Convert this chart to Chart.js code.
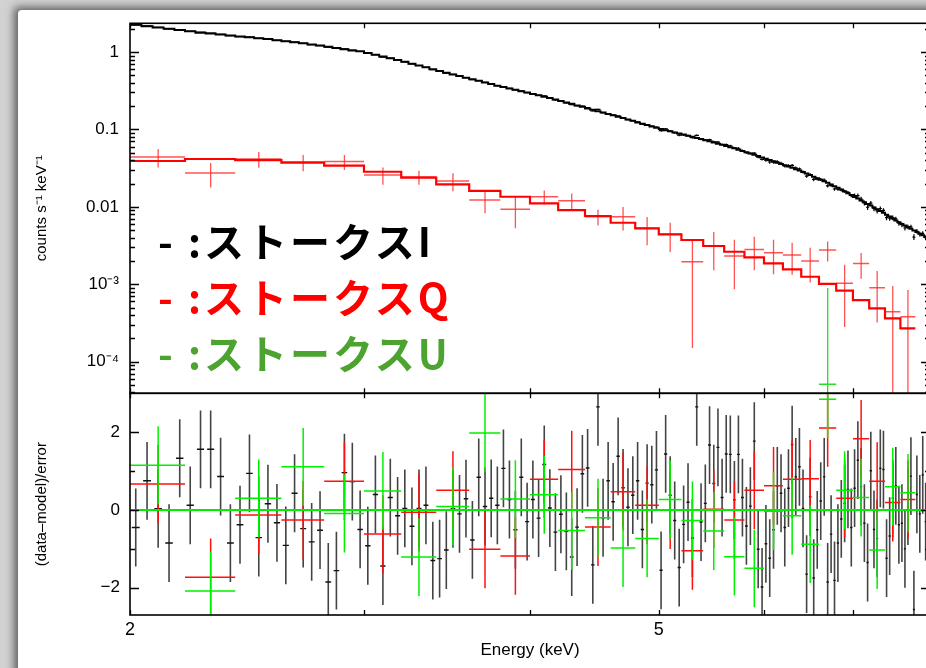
<!DOCTYPE html>
<html>
<head>
<meta charset="utf-8">
<script src="https://cdn.jsdelivr.net/npm/chart.js@4.4.0/dist/chart.umd.min.js"></script>
<style>
  html, body { margin: 0; padding: 0; width: 926px; height: 668px; overflow: hidden; background: #d2d2d2; }
  #sheet { position: absolute; left: 18px; top: 10px; width: 960px; height: 720px; background: #fff;
           border-radius: 4px 0 0 0; box-shadow: -4px -3px 8px rgba(0,0,0,0.55); }
  #plots { position: absolute; left: 0; top: 0; width: 940px; height: 668px; }
  #plots canvas { position: absolute; left: 0; top: 0; }
  .key { position: absolute; left: 158px; font-family: "Noto Sans CJK JP", sans-serif; font-weight: 700;
         font-size: 40px; line-height: 40px; letter-spacing: 3px; white-space: pre; }
</style>
</head>
<body>
<div id="sheet"></div>
<div id="plots">
  <canvas id="spec" width="940" height="668"></canvas>
  <canvas id="resid" width="940" height="668"></canvas>
</div>
<div class="key" style="top:220px;color:#000">- :ストークスI</div>
<div class="key" style="top:276px;color:#ff0000">- :ストークスQ</div>
<div class="key" style="top:332px;color:#4ca330">- :ストークスU</div>
<script>
// ---- Stokes I spectrum: 0.04 keV bins ----
const energyI = [
  2.02,2.06,2.10,2.14,2.18,2.22,2.26,2.30,2.34,2.38,
  2.42,2.46,2.50,2.54,2.58,2.62,2.66,2.70,2.74,2.78,
  2.82,2.86,2.90,2.94,2.98,3.02,3.06,3.10,3.14,3.18,
  3.22,3.26,3.30,3.34,3.38,3.42,3.46,3.50,3.54,3.58,
  3.62,3.66,3.70,3.74,3.78,3.82,3.86,3.90,3.94,3.98,
  4.02,4.06,4.10,4.14,4.18,4.22,4.26,4.30,4.34,4.38,
  4.42,4.46,4.50,4.54,4.58,4.62,4.66,4.70,4.74,4.78,
  4.82,4.86,4.90,4.94,4.98,5.02,5.06,5.10,5.14,5.18,
  5.22,5.26,5.30,5.34,5.38,5.42,5.46,5.50,5.54,5.58,
  5.62,5.66,5.70,5.74,5.78,5.82,5.86,5.90,5.94,5.98,
  6.02,6.06,6.10,6.14,6.18,6.22,6.26,6.30,6.34,6.38,
  6.42,6.46,6.50,6.54,6.58,6.62,6.66,6.70,6.74,6.78,
  6.82,6.86,6.90,6.94,6.98,7.02,7.06,7.10,7.14,7.18,
  7.22,7.26,7.30,7.34,7.38,7.42,7.46,7.50,7.54,7.58,
  7.62,7.66,7.70,7.74,7.78,7.82,7.86,7.90,7.94,7.98
];
const halfWidthI = 0.02;

// model count rate (counts s^-1 keV^-1) per bin
const modelI = [
  2.25,2.16,2.08,2.00,1.92,1.85,1.78,1.73,1.68,1.64,
  1.59,1.55,1.51,1.47,1.42,1.38,1.34,1.30,1.25,1.21,
  1.17,1.13,1.09,1.05,1.02,0.974,0.923,0.875,0.830,0.787,
  0.746,0.706,0.669,0.634,0.601,0.569,0.539,0.513,0.489,0.466,
  0.444,0.424,0.404,0.385,0.367,0.352,0.338,0.325,0.312,0.299,
  0.287,0.276,0.265,0.254,0.243,0.233,0.223,0.214,0.204,0.196,
  0.187,0.179,0.172,0.165,0.158,0.152,0.146,0.140,0.134,0.129,
  0.123,0.118,0.114,0.109,0.105,0.101,0.0975,0.0944,0.0914,0.0885,
  0.0857,0.0829,0.0803,0.0777,0.0752,0.0726,0.0702,0.0678,0.0655,0.0633,
  0.0611,0.0590,0.0570,0.0548,0.0528,0.0508,0.0488,0.0470,0.0452,0.0435,
  0.0418,0.0402,0.0387,0.0372,0.0358,0.0345,0.0332,0.0319,0.0307,0.0295,
  0.0282,0.0269,0.0257,0.0245,0.0234,0.0224,0.0214,0.0204,0.0195,0.0185,
  0.0176,0.0167,0.0158,0.0150,0.0142,0.0134,0.0128,0.0121,0.0115,0.0109,
  0.0104,0.00983,0.00933,0.00885,0.00839,0.00793,0.00749,0.00707,0.00668,0.00631,
  0.00601,0.00573,0.00546,0.00520,0.00495,0.00472,0.00449,0.00428,0.00407,0.00389
];

// (data - model) / error per bin
const residI = [
  -0.45,0.75,0.03,-0.85,1.33,0.12,1.56,1.56,0.86,-0.85,
  -0.38,0.94,-0.71,0.16,-0.33,-0.91,0.43,-0.48,-0.82,-0.52,
  -1.85,-1.56,0.96,0.73,-0.50,-0.92,0.40,-1.44,0.32,-0.15,
  0.04,-0.42,0.04,0.12,-1.30,-1.25,-1.03,0.03,-0.10,0.29,
  -0.77,0.84,0.09,0.30,0.12,1.07,0.27,-0.51,0.84,-0.30,
  0.27,-0.21,1.17,0.05,-0.57,-0.11,-0.55,-1.21,-0.44,0.93,
  1.08,-1.41,2.65,-0.20,0.75,0.21,1.38,0.57,0.07,0.38,
  0.75,-0.50,0.69,0.65,1.03,-1.55,1.44,0.38,-0.27,-1.48,
  -0.37,0.20,-0.72,2.65,-0.31,0.17,1.67,0.68,1.61,0.32,
  1.44,1.43,0.26,1.43,0.32,-0.41,0.10,1.77,-1.01,-1.98,
  -0.87,-1.24,-0.51,0.62,0.43,-0.45,0.56,1.68,0.85,1.11,
  0.04,-1.65,0.34,-1.75,-0.51,0.23,0.85,-1.85,-0.62,-1.81,
  -0.85,-0.23,0.17,0.53,-0.45,0.56,1.28,0.60,-0.34,-1.35,
  1.01,-0.50,-0.73,1.07,1.04,-1.24,-0.67,0.30,0.62,-0.38,
  -0.34,-1.00,0.10,0.87,-2.56,0.40,-0.10,0.90,-0.30,0.50
];

// fractional 1-sigma error of the I rate, by energy band [band start keV, fraction]
const fracErrBandsI = [[2.0, 0.008], [3.0, 0.012], [4.0, 0.02], [5.0, 0.03], [6.0, 0.045], [7.0, 0.07]];

// ---- Stokes Q / U: 0.2 keV bins ----
const energyQU = [2.1,2.3,2.5,2.7,2.9,3.1,3.3,3.5,3.7,3.9,4.1,4.3,4.5,4.7,4.9,
                  5.1,5.3,5.5,5.7,5.9,6.1,6.3,6.5,6.7,6.9,7.1,7.3,7.5,7.7];
const halfWidthQU = 0.1;

const modelQ = [0.0391,0.0415,0.0402,0.0372,0.0340,0.0284,0.0238,0.0195,0.0161,0.0135,
                0.0111,0.00909,0.00761,0.00623,0.00528,0.00441,0.00373,0.00312,0.00263,0.00223,
                0.00186,0.00156,0.00125,0.00101,0.000825,0.000625,0.000488,0.000363,0.000269];
const dataQ  = [0.0440,0.0273,0.0415,0.0379,0.0384,0.0258,0.0243,0.0215,0.01225,0.00929,
                0.0135,0.0120,0.00745,0.00745,0.00528,0.00441,0.00195,0.00312,0.00231,0.00282,
                0.00255,0.00238,0.00200,0.00277,0.00103,0.00186,0.000901,0.000441,0.000380];
const errQ   = [0.0118,0.0095,0.0095,0.0090,0.0085,0.0065,0.0050,0.0056,0.0040,0.0040,
                0.0028,0.0029,0.0017,0.0025,0.0021,0.0018,0.0018,0.0016,0.00145,0.0013,
                0.0012,0.00105,0.00095,0.0008,0.00075,0.00068,0.00058,0.00051,0.00046];
const residQ = [0.67,-1.73,-0.13,-0.26,0.74,-0.62,-0.06,0.51,-1.01,-1.18,
                0.79,1.04,-0.44,0.47,0.12,0.00,-1.05,0.02,-0.26,0.51,
                0.62,0.79,0.80,2.11,0.30,1.83,0.74,0.19,0.27];

// U rate: only one bin lies inside the plotted range
const dataU  = [null,null,null,null,null,null,null,null,null,null,
                null,null,null,null,null,null,null,null,null,null,
                null,null,null,5.1e-5,null,null,null,null,null];
const errU   = [null,null,null,null,null,null,null,null,null,null,
                null,null,null,null,null,null,null,null,null,null,
                null,null,null,0.00084,null,null,null,null,null];
const residU = [1.15,-2.08,0.30,1.11,-0.09,0.49,-1.21,0.09,1.98,0.28,
                0.39,-0.53,-0.20,-0.98,-0.73,0.27,-0.27,-0.54,-1.20,-1.50,
                -0.03,-0.15,-0.88,2.85,0.51,0.32,-1.03,0.60,0.44];

// ---- axis ticks ----
const energyTicks = [2, 3, 4, 5, 6, 7, 8];
const energyTickLabels = ['2', '', '', '5', '', '', ''];
const rateTicks = [1e-4, 1e-3, 0.01, 0.1, 1];
const rateTickLabels = ['10\u207B\u2074', '10\u207B\u00B3', '0.01', '0.1', '1'];
const residTicks = [-2, -1, 0, 1, 2];
const residTickLabels = ['\u22122', '', '0', '', '2'];

// ---------------------------------------------------------------
const FONT = 'Liberation Sans, Arial, Helvetica, sans-serif';

function bandFrac(e) {
  let f = fracErrBandsI[0][1];
  for (const [start, frac] of fracErrBandsI) if (e >= start) f = frac;
  return f;
}
const errI = modelI.map((m, i) => m * bandFrac(energyI[i]));
const dataI = modelI.map((m, i) => m + residI[i] * errI[i]);

function steps(centers, half, vals) {
  const pts = [];
  centers.forEach((c, i) => {
    if (vals[i] == null) return;
    pts.push({x: c - half, y: vals[i]}, {x: c + half, y: vals[i]});
  });
  return pts;
}
function crossH(centers, half, vals) {
  const pts = [];
  centers.forEach((c, i) => {
    if (vals[i] == null) return;
    pts.push({x: c - half, y: vals[i]}, {x: c + half, y: vals[i]}, {x: c, y: null});
  });
  return pts;
}
function crossV(centers, vals, errs, floor) {
  const pts = [];
  centers.forEach((c, i) => {
    if (vals[i] == null) return;
    const e = errs === 1 ? 1 : errs[i];
    pts.push({x: c, y: Math.max(vals[i] - e, floor)}, {x: c, y: vals[i] + e}, {x: c, y: null});
  });
  return pts;
}
function ds(data, color, width, order) {
  return {data, borderColor: color, borderWidth: width, pointRadius: 0, spanGaps: false,
          fill: false, tension: 0, order, borderCapStyle: 'butt'};
}

// inward tick marks on all four sides, plus the frame
const frameTicks = {
  id: 'frameTicks',
  afterDatasetsDraw(chart, args, opts) {
    const {ctx, chartArea: a, scales} = chart;
    ctx.save();
    ctx.strokeStyle = '#000';
    ctx.lineWidth = 1.3;
    ctx.beginPath();
    energyTicks.forEach(v => {
      const px = Math.round(scales.x.getPixelForValue(v)) + 0.5;
      ctx.moveTo(px, a.top); ctx.lineTo(px, a.top + 5);
      ctx.moveTo(px, a.bottom); ctx.lineTo(px, a.bottom - 5);
    });
    opts.yTicks.forEach(([v, len]) => {
      const py = Math.round(scales.y.getPixelForValue(v)) + 0.5;
      ctx.moveTo(a.left, py); ctx.lineTo(a.left + len, py);
      ctx.moveTo(a.right, py); ctx.lineTo(a.right - len, py);
    });
    ctx.stroke();
    ctx.lineWidth = 1.6;
    ctx.strokeRect(a.left, a.top, a.right - a.left, a.bottom - a.top);
    ctx.restore();
  }
};

const RATE_MIN = 3.9e-5, RATE_MAX = 2.35;
const rateTickMarks = [];
for (let e = -5; e <= 0; e++) {
  for (let m = 1; m <= 9; m++) {
    const v = m * Math.pow(10, e);
    if (v > RATE_MIN && v < RATE_MAX) rateTickMarks.push([v, m === 1 ? 9 : 5]);
  }
}

const common = {
  responsive: false, animation: false, devicePixelRatio: 1,
  events: [],
  elements: {point: {radius: 0}, line: {tension: 0}}
};
const noGrid = {display: false, drawTicks: false};

// ---------- upper panel: spectra ----------
new Chart(document.getElementById('spec'), {
  type: 'line',
  data: {
    datasets: [
      ds(crossH(energyI, halfWidthI, dataI), '#000', 1.2, 1),
      ds(crossV(energyI, dataI, errI, 1e-9), '#000', 1.2, 1),
      ds(steps(energyI, halfWidthI, modelI), '#000', 2, 2),
      ds(crossH(energyQU, halfWidthQU, dataU), '#22e022', 1.5, 3),
      ds(crossV(energyQU, dataU, errU, 1e-9), '#22e022', 1.3, 3),
      ds(steps(energyQU, halfWidthQU, modelQ), '#ff0000', 2.2, 4),
      ds(crossH(energyQU, halfWidthQU, dataQ), 'rgba(255,40,40,0.8)', 1.5, 5),
      ds(crossV(energyQU, dataQ, errQ, 1e-9), 'rgba(255,40,40,0.8)', 1.3, 5)
    ]
  },
  options: {
    ...common,
    layout: {padding: {top: 23.3, right: 10, bottom: 274.7, left: 0}},
    plugins: {legend: {display: false}, tooltip: {enabled: false},
              frameTicks: {yTicks: rateTickMarks}},
    scales: {
      x: {type: 'logarithmic', min: 2, max: 8, display: false},
      y: {
        type: 'logarithmic', min: RATE_MIN, max: RATE_MAX,
        grid: noGrid, border: {display: false},
        afterFit: s => { s.width = 130; },
        afterBuildTicks: s => { s.ticks = rateTicks.map(v => ({value: v})); },
        ticks: {autoSkip: false, padding: 11, color: '#000', font: {family: FONT, size: 17},
                callback: (v, i) => rateTickLabels[i]},
        title: {display: true, text: 'counts s\u207B\u00B9 keV\u207B\u00B9', color: '#000',
                font: {family: FONT, size: 15}, padding: {top: 33, bottom: 0}}
      }
    }
  },
  plugins: [frameTicks]
});

// ---------- lower panel: residuals ----------
const zeroLine = [{x: 2, y: 0}, {x: 8, y: 0}];
new Chart(document.getElementById('resid'), {
  type: 'line',
  data: {
    datasets: [
      ds(zeroLine, '#00ee00', 2.2, 0),
      ds(crossH(energyQU, halfWidthQU, residU), '#00f000', 1.5, 1),
      ds(crossV(energyQU, residU, 1, -100), '#00f000', 1.5, 1),
      ds(crossH(energyQU, halfWidthQU, residQ), '#ff1010', 1.5, 2),
      ds(crossV(energyQU, residQ, 1, -100), '#ff1010', 1.5, 2),
      ds(crossH(energyI, halfWidthI * 0.7, residI), '#111', 1.4, 3),
      ds(crossV(energyI, residI, 1, -100), '#444', 1.6, 3)
    ]
  },
  options: {
    ...common,
    layout: {padding: {top: 393.3, right: 10, bottom: 0, left: 0}},
    plugins: {legend: {display: false}, tooltip: {enabled: false},
              frameTicks: {yTicks: residTicks.map(v => [v, v % 2 === 0 ? 9 : 5])}},
    scales: {
      x: {
        type: 'logarithmic', min: 2, max: 8,
        grid: noGrid, border: {display: false},
        afterFit: s => { s.height = 53; },
        afterBuildTicks: s => { s.ticks = energyTicks.map(v => ({value: v})); },
        ticks: {autoSkip: false, maxRotation: 0, padding: 4, color: '#000',
                font: {family: FONT, size: 18}, callback: (v, i) => energyTickLabels[i]},
        title: {display: true, text: 'Energy (keV)', color: '#000',
                font: {family: FONT, size: 17}, padding: {top: 0, bottom: 7}}
      },
      y: {
        type: 'linear', min: -2.7, max: 3,
        grid: noGrid, border: {display: false},
        afterFit: s => { s.width = 130; },
        afterBuildTicks: s => { s.ticks = residTicks.map(v => ({value: v})); },
        ticks: {autoSkip: false, padding: 10, color: '#000', font: {family: FONT, size: 17},
                callback: (v, i) => residTickLabels[i]},
        title: {display: true, text: '(data\u2013model)/error', color: '#000',
                font: {family: FONT, size: 15}, padding: {top: 33, bottom: 0}}
      }
    }
  },
  plugins: [frameTicks]
});
</script>
</body>
</html>
